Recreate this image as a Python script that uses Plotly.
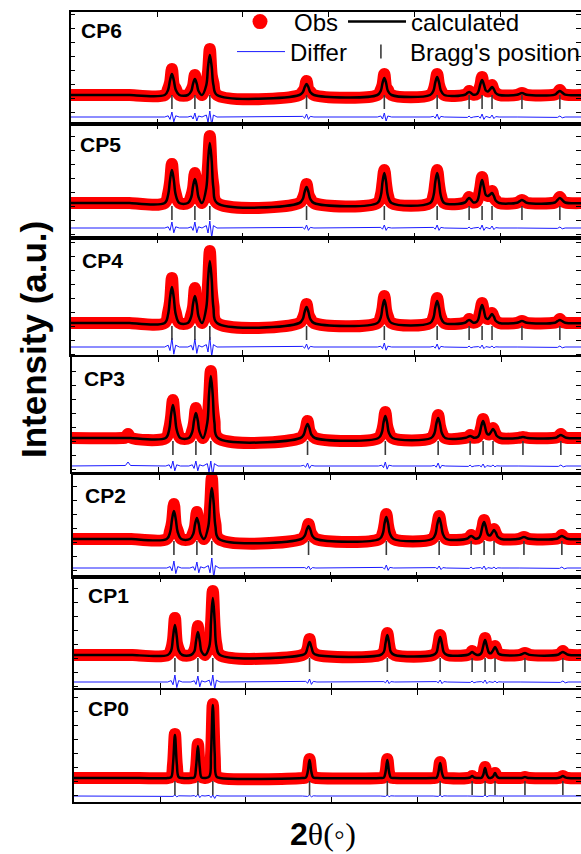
import plotly.graph_objects as go

W, H = 581, 854

panel_names = ["CP6", "CP5", "CP4", "CP3", "CP2", "CP1", "CP0"]

# 2theta sample positions (degrees)
two_theta = [
    9.5, 15.8, 16.2, 16.5, 16.8, 20.9,
    21.3, 21.52, 21.74, 21.96, 22.18, 22.6,
    23.6, 24.0, 24.2, 24.42, 24.64, 24.84, 25.25,
    25.75, 25.95, 26.16, 26.38, 26.58, 27.0,
    36.6, 37.0, 37.22, 37.44, 37.66, 37.88, 38.3,
    45.7, 46.1, 46.3, 46.51, 46.72, 46.92, 47.35,
    51.85, 52.25, 52.45, 52.67, 52.89, 53.1, 53.5,
    55.9, 56.2, 56.4, 56.6, 56.9,
    57.3, 57.5, 57.7, 57.91, 58.12, 58.35, 58.6, 58.85, 59.07, 59.29, 59.5, 59.9,
    62.0, 62.3, 62.56, 62.82, 63.1,
    66.4, 66.7, 66.98, 67.26, 67.6,
    70.0,
]

bragg_positions = [21.74, 24.42, 26.16, 37.44, 46.51, 52.67, 56.40, 57.91, 59.07, 62.56, 66.98]

# calculated intensities (a.u., above background)
calc_cp6 = [0, 0, 0, 0, 0, 0,
            5.3, 14.7, 21, 14.7, 5.3, 0,
            0, 4, 11.2, 16, 11.2, 4, 0,
            10, 28, 40, 28, 10, 0,
            0, 2.8, 7.7, 11, 7.7, 2.8, 0,
            0, 4.3, 11.9, 17, 11.9, 4.3, 0,
            0, 4.5, 12.6, 18, 12.6, 4.5, 0,
            0.3, 2.1, 3, 2.1, 0.3,
            1, 3.8, 10.5, 15, 10.5, 4.5, 3.5, 5.8, 8, 5.6, 2, 0,
            0.2, 1.2, 2, 1.2, 0.2,
            0.4, 2.4, 4, 2.4, 0.4,
            0]
diff_cp6 = [0, 0, 0, 0, 0, 0,
            1.2, -2.4, 5, -4.8, 1.2, 0,
            0, 1, -2, 4, -4, 1, 0,
            2, -5, 6, -8, 2, 0,
            0, 0.6, -1.2, 3, -2.4, 0.6, 0,
            0, 1, -2, 4, -4, 1, 0,
            0, 0.6, -1.2, 3, -2.4, 0.6, 0,
            0, -0.4, 1, -0.8, 0,
            0, 0.6, -1.2, 3, -2.4, 0.6, 0, -0.8, 2, -1.6, 0.4, 0,
            0, 0, 0, 0, 0,
            0, -0.4, 1, -0.8, 0,
            0]

calc_cp5 = [0, 0, 0, 0, 0, 0,
            8.3, 23.1, 33, 23.1, 8.3, 0,
            0, 6, 16.8, 24, 16.8, 6, 0,
            15, 42, 60, 42, 15, 0,
            0, 4, 11.2, 16, 11.2, 4, 0,
            0, 7.5, 21, 30, 21, 7.5, 0,
            0, 7.5, 21, 30, 21, 7.5, 0,
            0.5, 3.5, 5, 3.5, 0.5,
            1.6, 5.8, 16.1, 23, 16.1, 8, 7, 8.5, 10, 7, 2.5, 0,
            0.3, 1.8, 3, 1.8, 0.3,
            0.5, 3, 5, 3, 0.5,
            0]
diff_cp5 = [0, 0, 0, 0, 0, 0,
            1.2, -2.4, 6, -4.8, 1.2, 0,
            0, 1.2, -2.4, 6, -4.8, 1.2, 0,
            2.4, -5, 7, -9.6, 2.4, 0,
            0, 0.6, -1.2, 3, -2.4, 0.6, 0,
            0, 0.6, -1.2, 3, -2.4, 0.6, 0,
            0, 0.6, -1.2, 3, -2.4, 0.6, 0,
            0, -0.4, 1, -0.8, 0,
            0, 0.6, -1.2, 3, -2.4, 0.6, 0, -0.8, 2, -1.6, 0.4, 0,
            0, 0, 0, 0, 0,
            0, -0.4, 1, -0.8, 0,
            0]

calc_cp4 = [0, 0, 0, 0, 0, 0,
            9, 25.2, 36, 25.2, 9, 0,
            0, 6.8, 18.9, 27, 18.9, 6.8, 0,
            15.5, 43.4, 62, 43.4, 15.5, 0,
            0, 4, 11.2, 16, 11.2, 4, 0,
            0, 5.8, 16.1, 23, 16.1, 5.8, 0,
            0, 5.5, 15.4, 22, 15.4, 5.5, 0,
            0.3, 2.1, 3, 2.1, 0.3,
            1.3, 4.5, 12.6, 18, 12.6, 5, 4, 6.5, 9, 6.3, 2.2, 0,
            0.2, 1.2, 2, 1.2, 0.2,
            0.3, 1.8, 3, 1.8, 0.3,
            0]
diff_cp4 = [0, 0, 0, 0, 0, 0,
            1.8, -3.6, 9, -7.2, 1.8, 0,
            0, 1.6, -3.2, 8, -6.4, 1.6, 0,
            2.4, -5, 10, -9.6, 2.4, 0,
            0, 0.6, -1.2, 3, -2.4, 0.6, 0,
            0, 0.8, -1.6, 4, -3.2, 0.8, 0,
            0, 0.6, -1.2, 3, -2.4, 0.6, 0,
            0, -0.4, 1, -0.8, 0,
            0, 0.4, -0.8, 2, -1.6, 0.4, 0, -0.4, 1, -0.8, 0.2, 0,
            0, 0, 0, 0, 0,
            0, -0.4, 1, -0.8, 0,
            0]

calc_cp3 = [0, 0, 0, 0, 0, 0,
            8.3, 23.1, 33, 23.1, 8.3, 0,
            0, 6.3, 17.5, 25, 17.5, 6.3, 0,
            15.5, 43.4, 62, 43.4, 15.5, 0,
            0, 3.5, 9.8, 14, 9.8, 3.5, 0,
            0, 5.5, 15.4, 22, 15.4, 5.5, 0,
            0, 5, 14, 20, 14, 5, 0,
            0.2, 1.4, 2, 1.4, 0.2,
            1.2, 4.3, 11.9, 17, 11.9, 4.6, 3.5, 6.3, 9, 6.3, 2.2, 0,
            0.1, 0.6, 1, 0.6, 0.1,
            0.3, 1.8, 3, 1.8, 0.3,
            0]
diff_cp3 = [0, 0, 0.5, 4, 0.5, 0,
            1.2, -2.4, 5, -4.8, 1.2, 0,
            0, 1.2, -2.4, 5, -4.8, 1.2, 0,
            2.4, -6, 5, -9.6, 2.4, 0,
            0, 0.6, -1.2, 3, -2.4, 0.6, 0,
            0, 0.8, -1.6, 4, -3.2, 0.8, 0,
            0, 0.6, -1.2, 3, -2.4, 0.6, 0,
            0, -0.4, 1, -0.8, 0,
            0, 0.4, -0.8, 2, -1.6, 0.4, 0, -0.4, 1, -0.8, 0.2, 0,
            0, 0, 0, 0, 0,
            0, -0.4, 1, -0.8, 0,
            0]

calc_cp2 = [0, 0, 0, 0, 0, 0,
            7, 19.6, 28, 19.6, 7, 0,
            0, 5.3, 14.7, 21, 14.7, 5.3, 0,
            12.8, 35.7, 51, 35.7, 12.8, 0,
            0, 3.3, 9.1, 13, 9.1, 3.3, 0,
            0, 5.5, 15.4, 22, 15.4, 5.5, 0,
            0, 5.3, 14.7, 21, 14.7, 5.3, 0,
            0.3, 2.1, 3, 2.1, 0.3,
            1.2, 4.3, 11.9, 17, 11.9, 4.6, 3.5, 6.3, 9, 6.3, 2.2, 0,
            0.2, 1.2, 2, 1.2, 0.2,
            0.3, 1.8, 3, 1.8, 0.3,
            0]
diff_cp2 = [0, 0, 0, 0, 0, 0,
            1.4, -2.8, 7, -5.6, 1.4, 0,
            0, 1.2, -2.4, 6, -4.8, 1.2, 0,
            2.4, -4.8, 10, -9.6, 2.4, 0,
            0, 0.4, -0.8, 2, -1.6, 0.4, 0,
            0, 0.6, -1.2, 3, -2.4, 0.6, 0,
            0, 0.4, -0.8, 2, -1.6, 0.4, 0,
            0, -0.4, 1, -0.8, 0,
            0, 0.4, -0.8, 2, -1.6, 0.4, 0, -0.4, 1, -0.8, 0.2, 0,
            0, 0, 0, 0, 0,
            0, -0.4, 1, -0.8, 0,
            0]

calc_cp1 = [0, 0, 0, 0, 0, 0,
            4.5, 18, 30, 18, 4.5, 0,
            0, 3.5, 13.8, 23, 13.8, 3.5, 0,
            8.6, 34.2, 57, 34.2, 8.6, 0,
            0, 2, 7.8, 13, 7.8, 2, 0,
            0, 3, 12, 20, 12, 3, 0,
            0, 2.7, 10.8, 18, 10.8, 2.7, 0,
            0.2, 1.8, 3, 1.8, 0.2,
            0.5, 2.3, 9, 15, 9, 2.5, 1.8, 4.8, 8, 4.8, 1.2, 0,
            0.1, 1.2, 2, 1.2, 0.1,
            0.2, 1.8, 3, 1.8, 0.2,
            0]
diff_cp1 = [0, 0, 0, 0, 0, 0,
            1.4, -2.8, 7, -5.6, 1.4, 0,
            0, 1.2, -2.4, 6, -4.8, 1.2, 0,
            1.8, -3.6, 7, -7.2, 1.8, 0,
            0, 0.6, -1.2, 3, -2.4, 0.6, 0,
            0, 0.4, -0.8, 2, -1.6, 0.4, 0,
            0, 0.4, -0.8, 2, -1.6, 0.4, 0,
            0, -0.4, 1, -0.8, 0,
            0, 0.4, -0.8, 2, -1.6, 0.4, 0, -0.4, 1, -0.8, 0.2, 0,
            0, 0, 0, 0, 0,
            0, -0.4, 1, -0.8, 0,
            0]

calc_cp0 = [0, 0, 0, 0, 0, 0,
            0.9, 14.2, 43, 14.2, 0.9, 0,
            0, 0.6, 10.6, 32, 10.6, 0.6, 0,
            1.5, 24.1, 73, 24.1, 1.5, 0,
            0, 0.4, 5.9, 18, 5.9, 0.4, 0,
            0, 0.4, 5.9, 18, 5.9, 0.4, 0,
            0, 0.3, 5, 15, 5, 0.3, 0,
            0, 0.7, 2, 0.7, 0,
            0, 0.2, 3.3, 10, 3.3, 0.2, 0.1, 1.6, 5, 1.6, 0.1, 0,
            0, 0.3, 1, 0.3, 0,
            0, 0.7, 2, 0.7, 0,
            0]
diff_cp0 = [0, 0, 0, 0, 0, 0,
            0.2, -0.4, 1, -0.8, 0.2, 0,
            0, 0.4, -0.8, 2, -1.6, 0.4, 0,
            0.6, -1.6, 1, -2.4, 0.6, 0,
            0, 0.2, -0.4, 1, -0.8, 0.2, 0,
            0, 0.2, -0.4, 1, -0.8, 0.2, 0,
            0, 0.2, -0.4, 1, -0.8, 0.2, 0,
            0, 0, 0, 0, 0,
            0, 0.2, -0.4, 1, -0.8, 0.2, 0, 0, 0, 0, 0, 0,
            0, 0, 0, 0, 0,
            0, 0, 0, 0, 0,
            0]

calc = {"CP6": calc_cp6, "CP5": calc_cp5, "CP4": calc_cp4, "CP3": calc_cp3,
        "CP2": calc_cp2, "CP1": calc_cp1, "CP0": calc_cp0}
diff = {"CP6": diff_cp6, "CP5": diff_cp5, "CP4": diff_cp4, "CP3": diff_cp3,
        "CP2": diff_cp2, "CP1": diff_cp1, "CP0": diff_cp0}
for k in panel_names:
    assert len(calc[k]) == len(two_theta), (k, len(calc[k]))
    assert len(diff[k]) == len(two_theta), (k, len(diff[k]))

# ---- layout geometry (pixels) ----
# top, bottom, baseline, x-shift, diff offset, bragg offset, label y, label x
geom = {
    "CP6": (12, 124, 95, 0, 22, 7, 30, 79),
    "CP5": (124, 238, 203, 0, 25, 10, 145, 78),
    "CP4": (238, 355, 323, 0, 24, 10, 260, 80),
    "CP3": (357, 472, 438, 1, 28, 10, 378, 82),
    "CP2": (475, 577, 539, 2, 29, 9, 495, 83),
    "CP1": (577, 688, 655, 3, 27, 10, 595, 86),
    "CP0": (690, 802, 778, 3, 18, 10, 708, 86),
}
PX_PER_DEG = 8.575
TICK20_PX = 157.0
LEFT_PX = 70.5

fig = go.Figure()
layout_axes = {}
annotations = []

for i, name in enumerate(panel_names):
    top, bot, base, sh, doff, boff, ly, lx = geom[name]
    n = i + 1
    xa = "x" if n == 1 else f"x{n}"
    ya = "y" if n == 1 else f"y{n}"
    t20 = TICK20_PX + sh
    x0 = 20 - (t20 - (LEFT_PX + sh)) / PX_PER_DEG
    x1 = 20 + (W - t20) / PX_PER_DEG
    first = (i == 0)

    obs = [c + d for c, d in zip(calc[name], diff[name])]
    fig.add_trace(go.Scatter(x=two_theta, y=obs, mode="lines", xaxis=xa, yaxis=ya,
                             line=dict(color="#ff0000", width=12, shape="spline"),
                             showlegend=False, hoverinfo="skip"))
    if first:
        fig.add_trace(go.Scatter(x=[None], y=[None], mode="markers", name="Obs",
                                 xaxis=xa, yaxis=ya, legend="legend",
                                 marker=dict(color="#ff0000", size=15)))
    fig.add_trace(go.Scatter(x=two_theta, y=calc[name], mode="lines", name="calculated",
                             xaxis=xa, yaxis=ya, legend="legend", showlegend=first,
                             line=dict(color="black", width=2.5, shape="spline")))
    fig.add_trace(go.Scatter(x=two_theta, y=[d - doff for d in diff[name]], mode="lines",
                             name="Differ", xaxis=xa, yaxis=ya, legend="legend2",
                             showlegend=first, line=dict(color="#1a1aff", width=1)))
    fig.add_trace(go.Scatter(x=bragg_positions, y=[-boff] * len(bragg_positions),
                             mode="markers", name="Bragg's position", xaxis=xa, yaxis=ya,
                             legend="legend2", showlegend=first,
                             marker=dict(symbol="line-ns-open", size=10, color="#3a3a3a",
                                         line=dict(color="#3a3a3a", width=1.6))))

    common = dict(showline=True, linecolor="black", linewidth=1.5, mirror="ticks",
                  ticks="inside", ticklen=5, tickwidth=1, tickcolor="black",
                  showticklabels=False, showgrid=False, zeroline=False)
    layout_axes["xaxis" if n == 1 else f"xaxis{n}"] = dict(
        domain=[(LEFT_PX + sh) / W, 1.0], range=[x0, x1], anchor=ya,
        tick0=0, dtick=10, **common)
    layout_axes["yaxis" if n == 1 else f"yaxis{n}"] = dict(
        domain=[1 - bot / H, 1 - top / H], range=[base - bot, base - top], anchor=xa,
        tick0=-3, dtick=14, **common)
    annotations.append(dict(text=f"<b>{name}</b>", xref="paper", yref="paper",
                            x=lx / W, y=1 - ly / H, xanchor="left", yanchor="middle",
                            showarrow=False,
                            font=dict(family="Liberation Sans, Arial", size=21, color="black")))

annotations.append(dict(text="<b>Intensity (a.u.)</b>", xref="paper", yref="paper",
                        x=33 / W, y=1 - 340 / H, xanchor="center", yanchor="middle",
                        textangle=-90, showarrow=False,
                        font=dict(family="Liberation Sans, Arial", size=35, color="black")))
annotations.append(dict(text="<span style='font-family:Liberation Sans'><b>2</b></span>θ(◦)",
                        xref="paper", yref="paper", x=323 / W, y=1 - 834 / H,
                        xanchor="center", yanchor="middle", showarrow=False,
                        font=dict(family="Liberation Serif, Times New Roman", size=32,
                                  color="black")))

leg_font = dict(family="Liberation Sans, Arial", size=24, color="black")
fig.update_layout(
    width=W, height=H, margin=dict(l=0, r=0, t=0, b=0, autoexpand=False),
    paper_bgcolor="white", plot_bgcolor="white",
    showlegend=True,
    legend=dict(x=226 / W, y=1 - 22 / H, orientation="h", xanchor="left", yanchor="middle",
                bgcolor="rgba(0,0,0,0)", itemwidth=58, font=leg_font),
    legend2=dict(x=232 / W, y=1 - 52 / H, orientation="h", xanchor="left", yanchor="middle",
                 bgcolor="rgba(0,0,0,0)", itemwidth=48, font=leg_font),
    annotations=annotations,
    **layout_axes,
)

fig.write_html("out.html")
